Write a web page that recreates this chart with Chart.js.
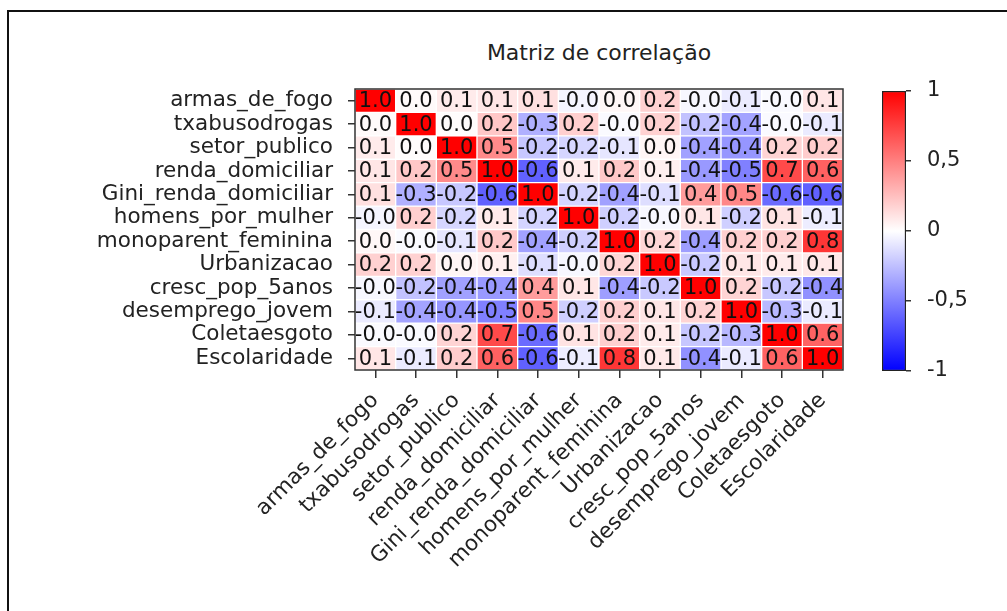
<!DOCTYPE html>
<html>
<head>
<meta charset="utf-8">
<script src="https://cdn.jsdelivr.net/npm/chart.js@4"></script>
<style>
  body { margin: 0; background: #fff; overflow: hidden; width: 1007px; height: 611px; position: relative; }
  #moldura { position: absolute; left: 7px; top: 10px; width: 1100px; height: 700px;
             border-left: 2px solid #111; border-top: 2px solid #111; }
  #titulo { position: absolute; left: 599px; top: 41px; transform: translateX(-50%);
            font: 22px "DejaVu Sans"; line-height: 24px; color: #222; white-space: nowrap; }
  #grafico-matriz { position: absolute; left: 0; top: 0; }
  #grafico-barra { position: absolute; left: 870px; top: 0; }
</style>
</head>
<body>
<div id="moldura"></div>
<div id="titulo">Matriz de correlação</div>
<canvas id="grafico-matriz" width="870" height="611"></canvas>
<canvas id="grafico-barra" width="137" height="611"></canvas>
<script>
// Variaveis (mesma ordem nas linhas e colunas)
const variaveis = [
  'armas_de_fogo', 'txabusodrogas', 'setor_publico', 'renda_domiciliar',
  'Gini_renda_domiciliar', 'homens_por_mulher', 'monoparent_feminina', 'Urbanizacao',
  'cresc_pop_5anos', 'desemprego_jovem', 'Coletaesgoto', 'Escolaridade'
];

// Correlacoes, uma linha por variavel
const corArmas        = [1.00, 0.02, 0.08, 0.10, 0.12, -0.04, 0.03, 0.18, -0.03, -0.08, -0.02, 0.10];
const corDrogas       = [0.02, 1.00, 0.01, 0.22, -0.31, 0.19, -0.02, 0.18, -0.24, -0.36, -0.02, -0.08];
const corSetorPublico = [0.08, 0.01, 1.00, 0.46, -0.22, -0.16, -0.10, 0.04, -0.37, -0.41, 0.17, 0.20];
const corRenda        = [0.10, 0.22, 0.46, 1.00, -0.62, 0.08, 0.21, 0.06, -0.40, -0.50, 0.71, 0.62];
const corGini         = [0.12, -0.31, -0.22, -0.62, 1.00, -0.17, -0.37, -0.13, 0.39, 0.47, -0.58, -0.62];
const corHomens       = [-0.04, 0.19, -0.16, 0.08, -0.17, 1.00, -0.19, -0.03, 0.10, -0.19, 0.11, -0.07];
const corMonoparent   = [0.03, -0.02, -0.10, 0.21, -0.37, -0.19, 1.00, 0.16, -0.38, 0.19, 0.19, 0.79];
const corUrbanizacao  = [0.18, 0.18, 0.04, 0.06, -0.13, -0.03, 0.16, 1.00, -0.21, 0.10, 0.08, 0.09];
const corCrescPop     = [-0.03, -0.24, -0.37, -0.40, 0.39, 0.10, -0.38, -0.21, 1.00, 0.17, -0.22, -0.43];
const corDesemprego   = [-0.08, -0.36, -0.41, -0.50, 0.47, -0.19, 0.19, 0.10, 0.17, 1.00, -0.28, -0.08];
const corColeta       = [-0.02, -0.02, 0.17, 0.71, -0.58, 0.11, 0.19, 0.08, -0.22, -0.28, 1.00, 0.61];
const corEscolaridade = [0.10, -0.08, 0.20, 0.62, -0.62, -0.07, 0.79, 0.09, -0.43, -0.08, 0.61, 1.00];

const linhas = [corArmas, corDrogas, corSetorPublico, corRenda, corGini, corHomens,
  corMonoparent, corUrbanizacao, corCrescPop, corDesemprego, corColeta, corEscolaridade];

// Ticks da barra de cores
const ticksBarra = [-1, -0.5, 0, 0.5, 1];

const fonte = '"DejaVu Sans"';
const corTexto = '#222';

// Mapa de cores azul-branco-vermelho (bwr)
const bwr = (v) => {
  if (v < 0) {
    const c = Math.round(255 * (1 + v));
    return `rgb(${c},${c},255)`;
  }
  const c = Math.round(255 * (1 - v));
  return `rgb(255,${c},${c})`;
};

// Um dataset por linha: barras flutuantes ocupando a faixa da linha
const datasets = linhas.map((valores, i) => ({
  label: variaveis[i],
  data: valores.map(() => [i, i + 1]),
  valores: valores,
  backgroundColor: valores.map(bwr),
  borderColor: '#fff',
  borderWidth: 1,
  borderSkipped: false,
  grouped: false,
  barPercentage: 1,
  categoryPercentage: 1
}));

// Escreve o valor em cada celula
const pluginAnotacoes = {
  id: 'anotacoes',
  afterDatasetsDraw(chart) {
    const ctx = chart.ctx;
    ctx.save();
    ctx.font = `21px ${fonte}`;
    ctx.fillStyle = '#111';
    ctx.textAlign = 'center';
    ctx.textBaseline = 'middle';
    chart.data.datasets.forEach((ds, i) => {
      chart.getDatasetMeta(i).data.forEach((el, j) => {
        ctx.fillText(ds.valores[j].toFixed(1), el.x, (el.y + el.base) / 2 + 1);
      });
    });
    ctx.restore();
  }
};

// Moldura em volta da area do grafico
const pluginMoldura = {
  id: 'moldura',
  afterDraw(chart) {
    const a = chart.chartArea;
    const ctx = chart.ctx;
    ctx.save();
    ctx.strokeStyle = '#333';
    ctx.lineWidth = 1.5;
    ctx.strokeRect(a.left, a.top, a.right - a.left, a.bottom - a.top);
    ctx.restore();
  }
};

new Chart(document.querySelector('#grafico-matriz'), {
  type: 'bar',
  data: { labels: variaveis, datasets: datasets },
  options: {
    responsive: false,
    animation: false,
    layout: { padding: { top: 89, right: 27, bottom: 0, left: 0 } },
    plugins: { legend: { display: false }, tooltip: { enabled: false } },
    scales: {
      x: {
        type: 'category',
        offset: true,
        afterFit: (s) => { s.height = 241; },
        grid: { offset: false, drawOnChartArea: false, tickLength: 8, color: '#333', lineWidth: 1.5 },
        border: { display: false },
        ticks: {
          autoSkip: false, minRotation: 45, maxRotation: 45, padding: 10,
          color: corTexto, font: { family: fonte, size: 21.5 }
        }
      },
      y: {
        type: 'linear',
        min: 0,
        max: variaveis.length,
        reverse: true,
        afterFit: (s) => { s.width = 355; },
        afterBuildTicks: (s) => { s.ticks = variaveis.map((_, i) => ({ value: i + 0.5 })); },
        grid: { drawOnChartArea: false, tickLength: 7, color: '#333', lineWidth: 1.5 },
        border: { display: false },
        ticks: {
          autoSkip: false, padding: 15, color: corTexto, font: { family: fonte, size: 21.5 },
          callback: (v, i) => variaveis[i]
        }
      }
    }
  },
  plugins: [pluginAnotacoes, pluginMoldura]
});

// Barra de cores
new Chart(document.querySelector('#grafico-barra'), {
  type: 'bar',
  data: {
    labels: [''],
    datasets: [{
      data: [[ticksBarra[0], ticksBarra[ticksBarra.length - 1]]],
      backgroundColor: (c) => {
        const y = c.chart.scales.y;
        if (!c.chart.chartArea || !y) return '#fff';
        const y0 = y.getPixelForValue(-1);
        const y1 = y.getPixelForValue(1);
        if (!isFinite(y0) || !isFinite(y1)) return '#fff';
        const g = c.chart.ctx.createLinearGradient(0, y0, 0, y1);
        g.addColorStop(0, bwr(-1));
        g.addColorStop(0.5, bwr(0));
        g.addColorStop(1, bwr(1));
        return g;
      },
      borderColor: '#222',
      borderWidth: 1.5,
      borderSkipped: false,
      barPercentage: 1,
      categoryPercentage: 1
    }]
  },
  options: {
    responsive: false,
    animation: false,
    layout: { padding: { top: 91, right: 0, bottom: 240, left: 12 } },
    plugins: { legend: { display: false }, tooltip: { enabled: false } },
    scales: {
      x: { display: false },
      y: {
        position: 'right',
        min: -1,
        max: 1,
        afterFit: (s) => { s.width = 101; },
        afterBuildTicks: (s) => { s.ticks = ticksBarra.map((v) => ({ value: v })); },
        grid: { drawOnChartArea: false, tickLength: 5, color: '#333', lineWidth: 1.5 },
        border: { display: false },
        ticks: {
          padding: 16, color: corTexto, font: { family: fonte, size: 21 },
          callback: (v) => String(v).replace('.', ',')
        }
      }
    }
  }
});
</script>
</body>
</html>
